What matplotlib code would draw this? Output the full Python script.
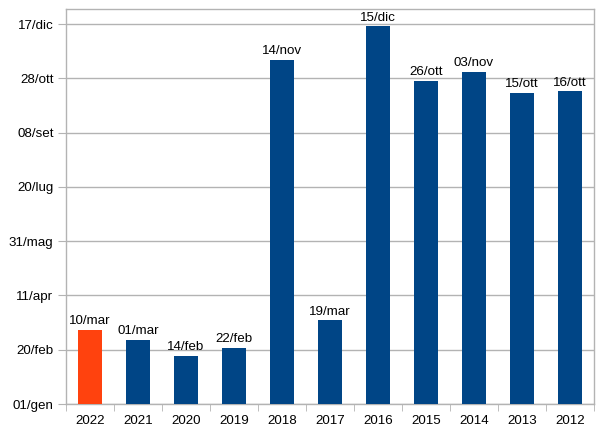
import matplotlib
matplotlib.use("Agg")
import matplotlib.pyplot as plt

plt.rcParams['font.family'] = ['Liberation Sans', 'DejaVu Sans']

anni = ['2022', '2021', '2020', '2019', '2018', '2017', '2016', '2015', '2014', '2013', '2012']
date = ['10/mar', '01/mar', '14/feb', '22/feb', '14/nov', '19/mar', '15/dic', '26/ott', '03/nov', '15/ott', '16/ott']
# giorno dell'anno (01/gen = 0)
giorni = [68, 59, 44, 52, 317, 77, 348, 298, 306, 287, 288]
colori = ['#ff420e'] + ['#004586'] * 10

tick_giorni = [0, 50, 100, 150, 200, 250, 300, 350]
tick_etichette = ['01/gen', '20/feb', '11/apr', '31/mag', '20/lug', '08/set', '28/ott', '17/dic']

fig = plt.figure(figsize=(6.05, 4.37), dpi=100)
ax = fig.add_axes([66 / 605, (437 - 404) / 437, (594 - 66) / 605, (404 - 9) / 437])

x = list(range(len(anni)))
bars = ax.bar(x, giorni, width=0.5, color=colori, zorder=3)
for b, t in zip(bars, date):
    ax.annotate(t, (b.get_x() + b.get_width() / 2, b.get_height()),
                xytext=(0, 2), textcoords='offset points',
                ha='center', va='bottom', fontsize=9.6, color='#000000')

ax.set_xlim(-0.5, len(anni) - 0.5)
ax.set_ylim(0, 364)
ax.set_yticks(tick_giorni)
ax.set_yticklabels(tick_etichette)
ax.set_xticks(x)
ax.set_xticklabels(anni)
ax.set_xticks([i - 0.5 for i in range(len(anni) + 1)], minor=True)

ax.yaxis.grid(True, color='#b3b3b3', linewidth=1, zorder=0)
for s in ax.spines.values():
    s.set_color('#b3b3b3')
    s.set_linewidth(1)

ax.tick_params(axis='y', length=6, color='#b3b3b3', labelsize=9.6, pad=3)
ax.tick_params(axis='x', which='major', length=0, labelsize=9.6, pad=8)
ax.tick_params(axis='x', which='minor', length=5, color='#b3b3b3')

fig.savefig('out.png', dpi=100)
